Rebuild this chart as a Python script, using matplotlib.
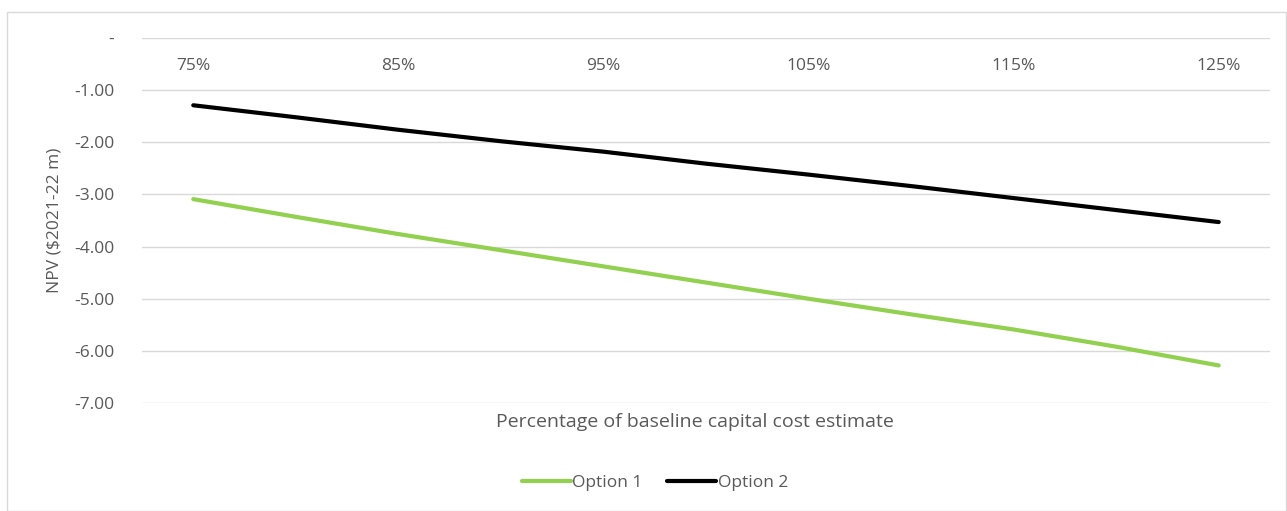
import numpy as np
import matplotlib
matplotlib.use('Agg')
import matplotlib.pyplot as plt
from matplotlib.patches import Rectangle
from matplotlib.ticker import FuncFormatter

# categories (5% steps, every other one labelled)
pct = [75, 80, 85, 90, 95, 100, 105, 110, 115, 120, 125]
cat_labels = ['%d%%' % p for p in pct]

# NPV ($2021-22 m)
option1 = [-3.09, -3.43, -3.76, -4.07, -4.38, -4.69, -5.00, -5.30, -5.59, -5.92, -6.28]
option2 = [-1.29, -1.52, -1.76, -1.98, -2.18, -2.41, -2.62, -2.84, -3.07, -3.30, -3.53]

yticks = [0, -1, -2, -3, -4, -5, -6, -7]

txt = '#595959'
grid_c = '#D9D9D9'
fs = 12.5
plt.rcParams['font.family'] = ['Open Sans', 'DejaVu Sans']

fig = plt.figure(figsize=(12.87, 5.11), dpi=100)
fig.patches.append(Rectangle((7/1287, 0), 1 - 8/1287, 1 - 12/511, transform=fig.transFigure,
                             fill=False, edgecolor=grid_c, linewidth=1))
ax = fig.add_axes([142/1287, 1 - 403/511, (1270 - 142)/1287, (403 - 38)/511])

x = np.arange(len(pct))
ax.plot(x, option1, color='#92D050', linewidth=3, label='Option 1', solid_capstyle='round')
ax.plot(x, option2, color='#000000', linewidth=3, label='Option 2', solid_capstyle='round')

ax.set_xlim(-0.5, len(pct) - 0.5)
ax.set_ylim(-7, 0)
ax.set_yticks(yticks)
ax.yaxis.set_major_formatter(FuncFormatter(lambda v, p: '-' if v == 0 else '%.2f' % v))
ax.grid(axis='y', color=grid_c, linewidth=1)
ax.set_axisbelow(True)
for s in ax.spines.values():
    s.set_visible(False)

ax.xaxis.tick_top()
ax.set_xticks(x[::2])
ax.set_xticklabels(cat_labels[::2])
ax.tick_params(axis='x', length=0, pad=-26, labelsize=fs, labelcolor=txt)
ax.tick_params(axis='y', length=0, pad=20, labelsize=fs, labelcolor=txt)

ax.xaxis.set_label_position('bottom')
ax.set_xlabel('Percentage of baseline capital cost estimate', fontsize=14, color=txt)
ax.xaxis.set_label_coords((695 - 142)/1128, -0.028)
ax.set_ylabel('NPV ($2021-22 m)', fontsize=fs, color=txt, labelpad=8)

fig.legend(loc='center', bbox_to_anchor=(655/1287, 1 - 483/511), ncol=2, frameon=False,
           fontsize=fs, labelcolor=txt, handlelength=2.8, handletextpad=0.1, columnspacing=1.4)

fig.savefig('out.png', dpi=100, facecolor='white')
